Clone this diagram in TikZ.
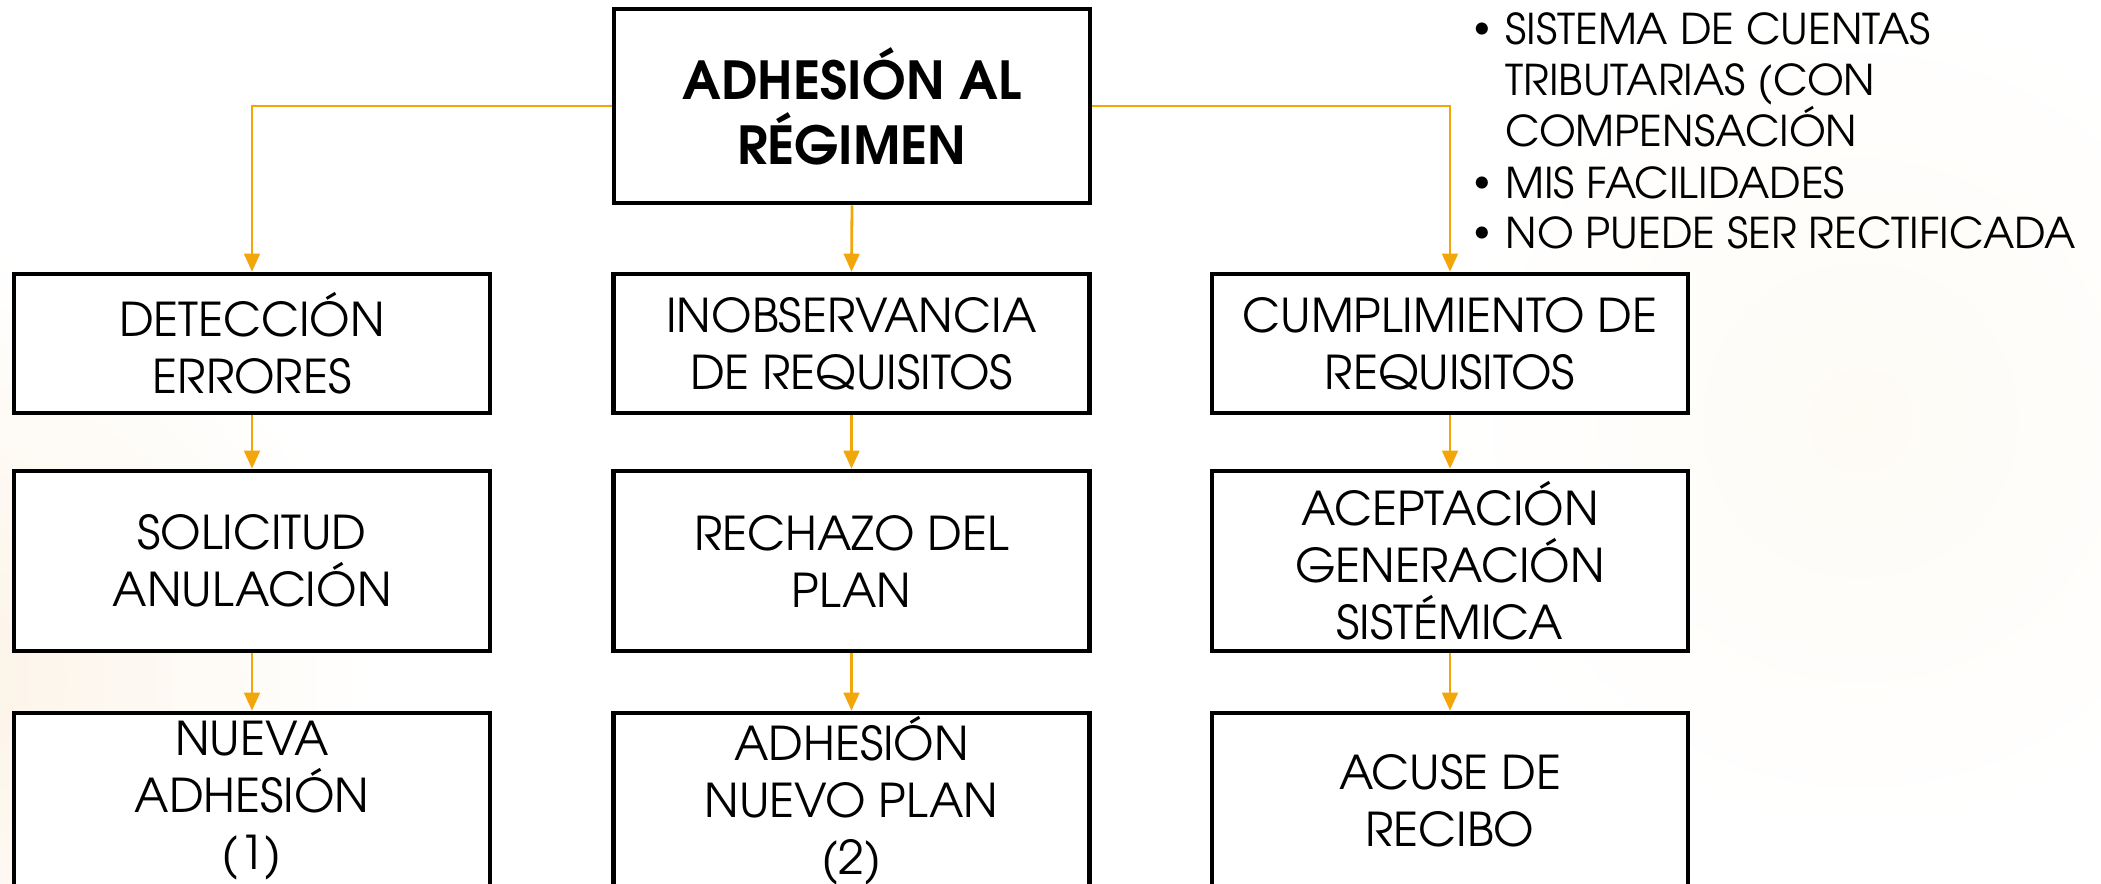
\documentclass[tikz,border=0pt]{standalone}
\usepackage{fontspec}
\setmainfont{TeX Gyre Adventor}
\usetikzlibrary{arrows.meta}
\definecolor{amber}{RGB}{243,166,10}
\definecolor{glow}{RGB}{252,243,230}
\definecolor{glowb}{RGB}{254,251,245}
\begin{document}
\begin{tikzpicture}[x=0.5pt,y=-0.5pt,
  box/.style={draw=black,line width=2.3pt,fill=white,minimum width=238pt,align=center,inner sep=0pt,
    font=\fontsize{23.3}{28.5}\selectfont},
  toprow/.style={box,minimum height=69.5pt},
  midrow/.style={box,minimum height=90pt},
  botrow/.style={box,minimum height=88pt},
  conn/.style={draw=amber,line width=1.4pt,-{Triangle[length=9pt,width=7.8pt]}},
  note/.style={anchor=base west,inner sep=0pt,font=\fontsize{21.2}{25.5}\selectfont}
]
\useasboundingbox (0,0) rectangle (2101,884);
\fill[white] (0,0) rectangle (2101,884);
\begin{scope}
\clip (0,0) rectangle (2101,884);
\shade[inner color=glow,outer color=white] (-60,680) circle (430);
\shade[inner color=glowb,outer color=white] (1860,420) circle (420);
\end{scope}

\node[box,minimum height=97pt,font=\bfseries\fontsize{26.2}{32.5}\selectfont] (top) at (852,106) {ADHESIÓN AL\\RÉGIMEN};

\node[toprow] (d1) at (252,343.5) {DETECCIÓN\\ERRORES};
\node[toprow] (i1) at (851.5,343.5) {INOBSERVANCIA\\DE REQUISITOS};
\node[toprow] (c1) at (1450,343.5) {CUMPLIMIENTO DE\\REQUISITOS};

\node[midrow] (d2) at (252,561) {SOLICITUD\\ANULACIÓN};
\node[midrow] (i2) at (851.5,561) {RECHAZO DEL\\PLAN};
\node[midrow] (c2) at (1450,561) {ACEPTACIÓN\\GENERACIÓN\\SISTÉMICA};

\node[botrow] (d3) at (252,801) {NUEVA\\ADHESIÓN\\(1)};
\node[botrow] (i3) at (851.5,801) {ADHESIÓN\\NUEVO PLAN\\(2)};
\node[botrow] (c3) at (1450,801) {ACUSE DE\\RECIBO};

\draw[conn] (top.west) -| (d1.north);
\draw[conn] (top.south) -- (i1.north);
\draw[conn] (top.east) -| (c1.north);
\draw[conn] (d1.south) -- (d2.north);
\draw[conn] (i1.south) -- (i2.north);
\draw[conn] (c1.south) -- (c2.north);
\draw[conn] (d2.south) -- (d3.north);
\draw[conn] (i2.south) -- (i3.north);
\draw[conn] (c2.south) -- (c3.north);

\newcommand{\bul}{\makebox[18pt][l]{\hspace{2pt}\raisebox{3.2pt}{\scalebox{0.8}{\textbullet}}}}
\node[note] (n1) at (1469,44) {\bul SISTEMA DE CUENTAS};
\node[note] (n2) at (1469,95) {\hspace*{18pt}TRIBUTARIAS (CON};
\node[note] (n3) at (1469,146) {\hspace*{18pt}COMPENSACIÓN};
\node[note] (n4) at (1469,198) {\bul MIS FACILIDADES};
\node[note] (n5) at (1469,248) {\bul NO PUEDE SER RECTIFICADA};
\end{tikzpicture}
\end{document}
